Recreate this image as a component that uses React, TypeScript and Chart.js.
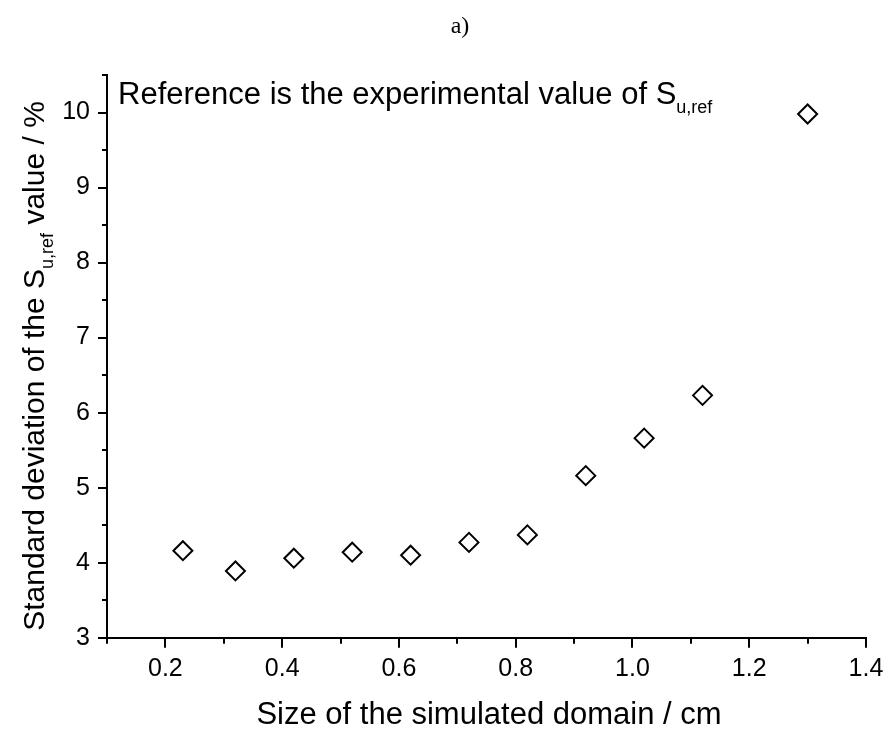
import React, { useEffect, useRef } from "react";
import { Chart, registerables } from "chart.js";

Chart.register(...registerables);

const xValues = [0.23, 0.32, 0.42, 0.52, 0.62, 0.72, 0.82, 0.92, 1.02, 1.12, 1.3];
const yValues = [4.16, 3.89, 4.06, 4.14, 4.1, 4.27, 4.37, 5.16, 5.66, 6.23, 9.98];

const panelLabel = "a)";
const xTitle = "Size of the simulated domain / cm";
const yTitleParts = ["Standard deviation of the S", "u,ref", " value / %"];
const noteParts = ["Reference is the experimental value of S", "u,ref", ""];

const FONT = "'Liberation Sans', Arial, sans-serif";

type Seg = [string, string, number];

function drawRich(ctx: CanvasRenderingContext2D, parts: string[], size: number, subSize: number, subDrop: number, align: "left" | "center") {
  const segs: Seg[] = [
    [parts[0], `${size}px ${FONT}`, 0],
    [parts[1], `${subSize}px ${FONT}`, subDrop],
    [parts[2], `${size}px ${FONT}`, 0],
  ];
  let total = 0;
  for (const s of segs) {
    ctx.font = s[1];
    total += ctx.measureText(s[0]).width;
  }
  let x = align === "center" ? -total / 2 : 0;
  ctx.textBaseline = "alphabetic";
  ctx.textAlign = "left";
  for (const s of segs) {
    ctx.font = s[1];
    ctx.fillText(s[0], x, s[2]);
    x += ctx.measureText(s[0]).width;
  }
}

const decorPlugin = {
  id: "decor",
  afterDraw(chart: any) {
    const ctx: CanvasRenderingContext2D = chart.ctx;
    const xs = chart.scales.x;
    const ys = chart.scales.y;
    const area = chart.chartArea;
    ctx.save();
    ctx.strokeStyle = "#000";
    ctx.fillStyle = "#000";
    ctx.lineWidth = 2;
    // y ticks
    for (const t of ys.ticks) {
      const v = t.value;
      const major = Math.abs(v - Math.round(v)) < 1e-6;
      const p = Math.round(ys.getPixelForValue(v));
      const len = major ? 9 : 5;
      ctx.beginPath();
      ctx.moveTo(area.left, p);
      ctx.lineTo(area.left - len, p);
      ctx.stroke();
    }
    // x ticks
    for (const t of xs.ticks) {
      const v = t.value;
      const k = Math.round(v * 10);
      const major = k % 2 === 0;
      const p = Math.round(xs.getPixelForValue(v));
      const len = major ? 10 : 6;
      ctx.beginPath();
      ctx.moveTo(p, area.bottom);
      ctx.lineTo(p, area.bottom + len);
      ctx.stroke();
    }
    // x title
    ctx.font = `31px ${FONT}`;
    ctx.textAlign = "center";
    ctx.textBaseline = "alphabetic";
    ctx.fillText(xTitle, 489, 724);
    // y title
    ctx.save();
    ctx.translate(44, 366);
    ctx.rotate(-Math.PI / 2);
    drawRich(ctx, yTitleParts, 30, 18, 9, "center");
    ctx.restore();
    // note
    ctx.save();
    ctx.translate(118, 104);
    drawRich(ctx, noteParts, 31, 18, 9, "left");
    ctx.restore();
    // panel label
    ctx.font = `24px 'Liberation Serif', 'Times New Roman', serif`;
    ctx.textAlign = "center";
    ctx.fillText(panelLabel, 460, 33);
    ctx.restore();
  },
};

export default function App() {
  const ref = useRef<HTMLCanvasElement | null>(null);
  useEffect(() => {
    if (!ref.current) return;
    const chart = new Chart(ref.current, {
      type: "scatter",
      data: {
        datasets: [
          {
            data: xValues.map((x, i) => ({ x, y: yValues[i] })),
            pointStyle: "rectRot",
            pointRadius: 9.5,
            pointBorderWidth: 2,
            pointBorderColor: "#000",
            pointBackgroundColor: "rgba(0,0,0,0)",
            showLine: false,
          },
        ],
      },
      options: {
        animation: false,
        responsive: false,
        events: [],
        layout: { padding: { left: 0, right: 20, top: 75, bottom: 0 } },
        plugins: { legend: { display: false }, tooltip: { enabled: false }, title: { display: false } },
        scales: {
          x: {
            type: "linear",
            min: 0.1,
            max: 1.4,
            grid: { display: false, drawTicks: false },
            border: { display: true, color: "#000", width: 2 },
            afterFit: (s: any) => {
              s.height = 91.3;
              s.paddingLeft = 0;
              s.paddingRight = 0;
            },
            ticks: {
              stepSize: 0.1,
              autoSkip: false,
              maxRotation: 0,
              padding: 16,
              color: "#000",
              font: { family: FONT, size: 25 },
              callback: (v: any) => {
                const k = Math.round(Number(v) * 10);
                return k % 2 === 0 ? (k / 10).toFixed(1) : "";
              },
            },
          },
          y: {
            type: "linear",
            min: 3,
            max: 10.5,
            grid: { display: false, drawTicks: false },
            border: { display: true, color: "#000", width: 2 },
            afterFit: (s: any) => {
              s.width = 107;
              s.paddingTop = 0;
              s.paddingBottom = 0;
            },
            ticks: {
              stepSize: 0.5,
              autoSkip: false,
              padding: 17,
              color: "#000",
              font: { family: FONT, size: 25 },
              callback: (v: any) => {
                const n = Number(v);
                return Math.abs(n - Math.round(n)) < 1e-6 ? String(Math.round(n)) : "";
              },
            },
          },
        },
      },
      plugins: [decorPlugin],
    });
    return () => chart.destroy();
  }, []);
  return (
    <div style={{ position: "absolute", left: 0, top: 0, width: 886, height: 729, background: "#fff" }}>
      <canvas ref={ref} width={886} height={729} />
    </div>
  );
}
